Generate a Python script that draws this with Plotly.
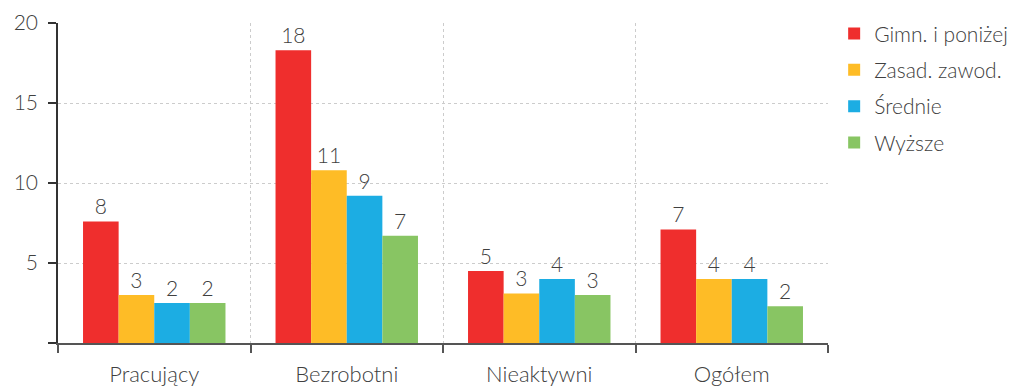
import plotly.graph_objects as go

categories = ["Pracujący", "Bezrobotni", "Nieaktywni", "Ogółem"]
series_names = ["Gimn. i poniżej", "Zasad. zawod.", "Średnie", "Wyższe"]
gimn = [7.6, 18.3, 4.5, 7.1]
zasad = [3.0, 10.8, 3.1, 4.0]
srednie = [2.5, 9.2, 4.0, 4.0]
wyzsze = [2.5, 6.7, 3.0, 2.3]
labels_gimn = ["8", "18", "5", "7"]
labels_zasad = ["3", "11", "3", "4"]
labels_srednie = ["2", "9", "4", "4"]
labels_wyzsze = ["2", "7", "3", "2"]
y_ticks = [0, 5, 10, 15, 20]
y_ticktext = ["", "5", "10", "15", "20"]

colors = ["#EF2E2D", "#FEBC26", "#1CADE3", "#88C563"]
values = [gimn, zasad, srednie, wyzsze]
labels = [labels_gimn, labels_zasad, labels_srednie, labels_wyzsze]

FONT = "Lato"
TXT = "#404040"

fig = go.Figure()
for i, (name, vals, labs) in enumerate(zip(series_names, values, labels)):
    fig.add_trace(go.Bar(
        x=categories, y=vals, name=name,
        marker=dict(color=colors[i], line=dict(width=0)),
        text=labs, textposition="outside",
        textfont=dict(family=FONT, size=21, color=TXT, weight=300),
        cliponaxis=False,
        legendgroup=name,
        hoverinfo="skip",
    ))

fig.update_layout(
    width=1016, height=389,
    margin=dict(l=50, r=196, t=15, b=54, autoexpand=False),
    paper_bgcolor="white", plot_bgcolor="white",
    barmode="group", bargap=0.26, bargroupgap=0,
    font=dict(family=FONT, size=21, color=TXT, weight=300),
    legend=dict(
        x=1.008, y=1.03, xanchor="left", yanchor="top",
        font=dict(family=FONT, size=21, color=TXT, weight=300),
        tracegroupgap=6, itemwidth=30,
        bgcolor="rgba(0,0,0,0)",
    ),
    showlegend=True,
)
fig.update_xaxes(
    type="category", tickson="boundaries", automargin=False,
    showline=True, linecolor="#555555", linewidth=1.5,
    ticks="outside", ticklen=8, tickcolor="#555555", tickwidth=1.5,
    showgrid=True, gridcolor="#CCCCCC", griddash="dot", gridwidth=1,
    tickfont=dict(family=FONT, size=22, color=TXT, weight=300),
    ticklabelstandoff=11,
)
fig.update_yaxes(
    range=[0, 20], tickvals=y_ticks, ticktext=y_ticktext, automargin=False,
    showline=True, linecolor="#333333", linewidth=1.5,
    ticks="outside", ticklen=8, tickcolor="#333333", tickwidth=1.5,
    showgrid=True, gridcolor="#CCCCCC", griddash="dot", gridwidth=1,
    tickfont=dict(family=FONT, size=21, color=TXT, weight=300),
    ticklabelstandoff=6,
    zeroline=False,
)

fig.write_html("out.html")
